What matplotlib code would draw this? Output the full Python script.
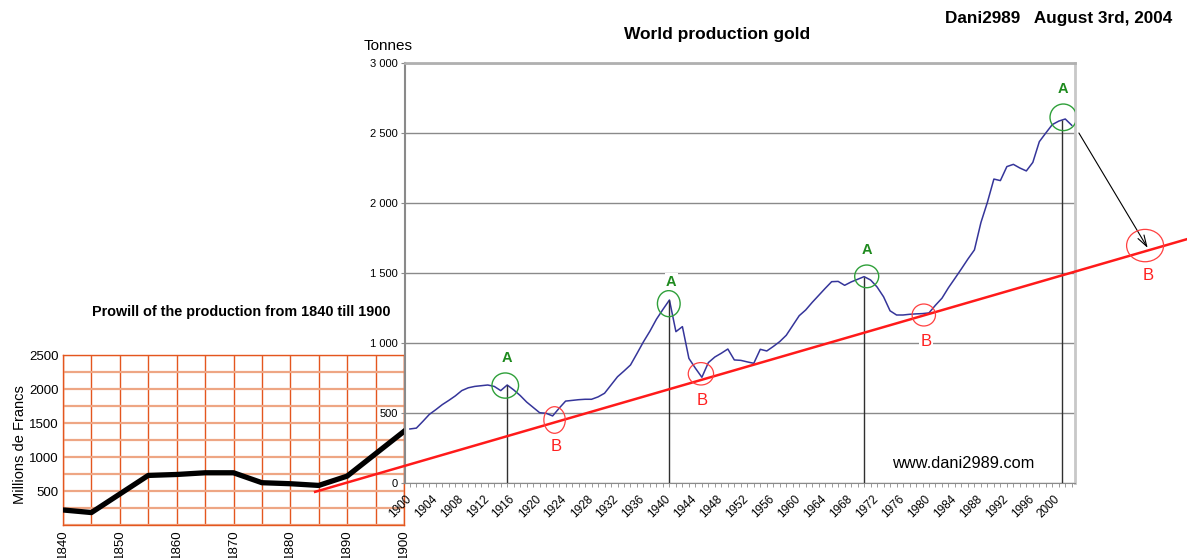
"""
plot.py - World gold production 1900-2002 with the 1840-1900 inset
"""

import matplotlib
matplotlib.use("Agg")
import matplotlib.pyplot as plt
from matplotlib.patches import Ellipse

plt.rcParams['font.family'] = ['Liberation Sans', 'DejaVu Sans']

#============================================
# DATA
#============================================

# main chart: world production, tonnes per year
YEARS = list(range(1900, 2003))
TONNES = [
    386, 392, 440, 490, 524, 560, 590, 622, 660, 680,      # 1900s
    690, 695, 700, 690, 660, 700, 665, 625, 578, 540,      # 1910s
    502, 498, 479, 534, 585, 590, 595, 598, 598, 615,      # 1920s
    641, 700, 759, 800, 843, 925, 1009, 1085, 1170, 1240,  # 1930s
    1307, 1081, 1117, 890, 820, 755, 860, 900, 927, 957,   # 1940s
    879, 876, 865, 855, 955, 943, 975, 1010, 1055, 1125,   # 1950s
    1195, 1236, 1290, 1340, 1390, 1438, 1440, 1412, 1436, 1455,  # 1960s
    1474, 1450, 1400, 1330, 1230, 1200, 1200, 1205, 1208, 1210,  # 1970s
    1215, 1270, 1320, 1395, 1462, 1530, 1600, 1665, 1860, 2005,  # 1980s
    2171, 2160, 2260, 2276, 2250, 2229, 2290, 2438, 2500, 2560,  # 1990s
    2585, 2600, 2555,                                       # 2000s
]

YTICKS = [0, 500, 1000, 1500, 2000, 2500, 3000]
YTICK_LABELS = ["0", "500", "1 000", "1 500", "2 000", "2 500", "3 000"]
XTICKS = list(range(1900, 2001, 4))

# red support line (drawn by hand in the original)
TREND_YEARS = [1885.4, 2019.7]
TREND_TONNES = [-63, 1741]

# "A" tops: drop line, circle and label
PEAK_YEARS = [1915, 1940, 1970, 2000.5]
PEAK_TONNES = [700, 1307, 1474, 2590]
A_CIRCLE_X = [1914.7, 1939.9, 1970.4, 2000.7]
A_CIRCLE_Y = [696, 1281, 1476, 2612]
A_CIRCLE_W = [4.1, 3.5, 3.7, 4.1]
A_CIRCLE_H = [180, 186, 162, 190]
A_LABEL_X = [1915.0, 1940.3, 1970.4, 2000.7]
A_LABEL_Y = [893, 1438, 1664, 2812]

# "B" bottoms on the support line
B_CIRCLE_X = [1922.3, 1944.85, 1979.2, 2013.3]
B_CIRCLE_Y = [450, 780, 1200, 1696]
B_CIRCLE_W = [3.3, 3.9, 3.6, 5.7]
B_CIRCLE_H = [190, 160, 157, 231]
B_LABEL_X = [1922.6, 1945.0, 1979.5, 2013.8]
B_LABEL_Y = [259, 588, 1014, 1479]

# arrow from the last top down to the next bottom
ARROW_FROM = (2003.1, 2500)
ARROW_TO = (2013.7, 1679)

# inset: production 1840-1900 in millions of francs
INSET_YEARS = [1840, 1845, 1855, 1860, 1865, 1870, 1875, 1880, 1885, 1890, 1900]
INSET_FRANCS = [221, 183, 729, 743, 768, 768, 622, 607, 582, 719, 1377]
INSET_XTICKS = list(range(1840, 1901, 10))
INSET_YTICKS = [500, 1000, 1500, 2000, 2500]

#============================================
# FIGURE
#============================================

W, H = 1187, 558
fig = plt.figure(figsize=(W / 100, H / 100), dpi=100)
fig.patch.set_facecolor('white')

def px(x, y):
    # pixel position -> figure fraction
    return x / W, 1 - y / H

#============================================
# INSET 1840-1900
#============================================

ax_in = fig.add_axes([63 / W, 1 - 525 / H, 341 / W, 170 / H])
ax_in.plot(INSET_YEARS, INSET_FRANCS, color='black', lw=3.8, zorder=3)
ax_in.set_xlim(1840, 1900)
ax_in.set_ylim(0, 2500)
ax_in.set_xticks(INSET_XTICKS)
ax_in.set_xticks(range(1840, 1901, 5), minor=True)
ax_in.set_xticklabels([str(y) for y in INSET_XTICKS], rotation=90)
ax_in.set_yticks(INSET_YTICKS)
ax_in.set_yticks(range(0, 2501, 250), minor=True)
ax_in.grid(which='both', axis='y', color='#eea684', lw=1.6, zorder=1)
ax_in.grid(which='both', axis='x', color='#e4561e', lw=1, zorder=1)
ax_in.set_axisbelow(True)
ax_in.tick_params(which='both', length=0, labelsize=9.5, pad=3)
for sp in ax_in.spines.values():
    sp.set_color('#e4561e')
    sp.set_linewidth(1)

fig.text(*px(241, 312), "Prowill of the production from 1840 till 1900",
         ha='center', va='center', fontsize=10.4, weight='bold')
fig.text(*px(20, 445), "Millions de Francs", rotation=90,
         ha='center', va='center', fontsize=10.5)

#============================================
# MAIN CHART
#============================================

ax = fig.add_axes([405 / W, 1 - 483 / H, 670 / W, 420 / H])
ax.patch.set_alpha(0)

ax.plot(YEARS, TONNES, color='#35359a', lw=1.1, zorder=3)
ax.set_xlim(1899.5, 2002.5)
ax.set_ylim(0, 3000)

ax.set_yticks(YTICKS)
ax.set_yticklabels(YTICK_LABELS)
# small marks every year; the year labels sit a bit left of their mark
ax.set_xticks(YEARS, minor=True)
ax.set_xticks([y - 0.75 for y in XTICKS])
ax.set_xticklabels([str(y) for y in XTICKS], rotation=45,
                   ha='right', va='top', rotation_mode='anchor')
ax.tick_params(axis='y', length=3, color='#8a8a8a', labelsize=8, pad=2)
ax.tick_params(axis='x', which='minor', length=3, color='#8a8a8a')
ax.tick_params(axis='x', which='major', length=0, labelsize=8.5, pad=7)
ax.grid(axis='y', color='#8a8a8a', lw=1, zorder=1)

ax.spines['left'].set_color('#8a8a8a')
ax.spines['left'].set_linewidth(1.5)
ax.spines['bottom'].set_color('#8a8a8a')
ax.spines['top'].set_color('#b0b0b0')
ax.spines['top'].set_linewidth(2)
ax.spines['right'].set_color('#c8c8c8')
ax.spines['right'].set_linewidth(2)

# support line, runs past both sides of the frame
ax.plot(TREND_YEARS, TREND_TONNES, color='#ff1a1a', lw=1.8,
        clip_on=False, zorder=5)

# drop lines under the tops
ax.vlines(PEAK_YEARS, 0, PEAK_TONNES, color='#303030', lw=1, zorder=4)

for x, y, w, h in zip(A_CIRCLE_X, A_CIRCLE_Y, A_CIRCLE_W, A_CIRCLE_H):
    ax.add_patch(Ellipse((x, y), w, h, fill=False, edgecolor='#2fa03a',
                         lw=1, zorder=6))
for x, y in zip(A_LABEL_X, A_LABEL_Y):
    ax.text(x, y, "A", color='#1e8a1e', fontsize=10.5, weight='bold',
            ha='center', va='center', zorder=6,
            bbox=dict(facecolor='white', edgecolor='none', pad=1))

for x, y, w, h in zip(B_CIRCLE_X, B_CIRCLE_Y, B_CIRCLE_W, B_CIRCLE_H):
    ax.add_patch(Ellipse((x, y), w, h, fill=False, edgecolor='#ff4040',
                         lw=0.9, zorder=6, clip_on=False))
for x, y in zip(B_LABEL_X, B_LABEL_Y):
    ax.text(x, y, "B", color='#ff2020', fontsize=12,
            ha='center', va='center', zorder=6, clip_on=False,
            bbox=dict(facecolor='white', edgecolor='none', pad=1))

ax.annotate("", xy=ARROW_TO, xytext=ARROW_FROM, annotation_clip=False,
            arrowprops=dict(arrowstyle='->,head_length=0.8,head_width=0.25',
                            color='black', lw=0.8, shrinkA=0, shrinkB=0))

#============================================
# TEXTS
#============================================

fig.text(*px(717, 35), "World production gold", ha='center', va='center',
         fontsize=12.5, weight='bold')
fig.text(*px(1059, 18), "Dani2989   August 3rd, 2004", ha='center',
         va='center', fontsize=12.3, weight='bold')
fig.text(*px(388, 46), "Tonnes", ha='center', va='center', fontsize=11)
fig.text(*px(963, 463), "www.dani2989.com", ha='center', va='center',
         fontsize=11.8)

fig.savefig('out.png', dpi=100, facecolor='white')
print("saved out.png")
